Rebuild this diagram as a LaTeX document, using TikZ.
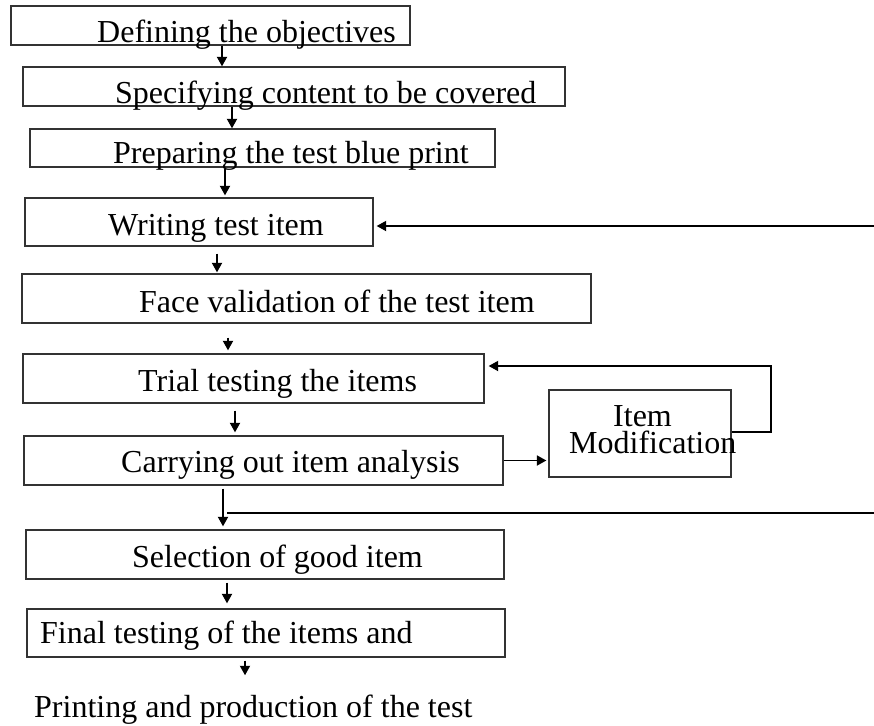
\documentclass[tikz,border=0pt]{standalone}
\usepackage{fontspec}
\setmainfont{Liberation Serif}
\usetikzlibrary{arrows.meta}
\begin{document}
\begin{tikzpicture}[x=1pt,y=-1pt,
  box/.style={draw=black!80, line width=1.3pt, rectangle, inner sep=0pt},
  txt/.style={anchor=base west, inner sep=0pt, font=\fontsize{32}{27}\selectfont},
  arr/.style={line width=1.8pt, -{Triangle[length=9.5pt,width=10pt]}},
  ln/.style={line width=1.8pt}]
\useasboundingbox (0,0) rectangle (874,725);
% boxes
\node[box, minimum width=399pt, minimum height=39pt] (b1) at (210.5,25.5) {};
\node[box, minimum width=542pt, minimum height=39pt] (b2) at (294,86.5) {};
\node[box, minimum width=465pt, minimum height=38pt] (b3) at (262.5,148) {};
\node[box, minimum width=348pt, minimum height=48pt] (b4) at (199,222) {};
\node[box, minimum width=569pt, minimum height=49pt] (b5) at (306.5,298.5) {};
\node[box, minimum width=461pt, minimum height=49pt] (b6) at (253.5,378.5) {};
\node[box, minimum width=479pt, minimum height=49pt] (b7) at (263.5,460.5) {};
\node[box, minimum width=478pt, minimum height=49pt] (b8) at (265,554.5) {};
\node[box, minimum width=478pt, minimum height=48pt] (b9) at (266,633) {};
\node[box, minimum width=182pt, minimum height=87pt] (mod) at (640,433.5) {};
% texts
\node[txt] (t1) at (97,43) {Defining the objectives};
\node[txt] (t2) at (115,103) {Specifying content to be covered};
\node[txt] (t3) at (113,163) {Preparing the test blue print};
\node[txt] (t4) at (108,235) {Writing test item};
\node[txt] (t5) at (139,312) {Face validation of the test item};
\node[txt] (t6) at (138,391) {Trial testing the items};
\node[txt] (t7) at (121,472) {Carrying out item analysis};
\node[txt] (t8) at (132,567) {Selection of good item};
\node[txt] (t9) at (40,643) {Final testing of the items and};
\node[txt] (t10) at (34,717) {Printing and production of the test};
\node[txt, align=left] (tm) at (569,453) {\hspace*{44pt}Item\\Modification};
% column coordinates
\coordinate (x1) at (222,0);
\coordinate (x2) at (232,0);
\coordinate (x3) at (225,0);
\coordinate (x4) at (217,0);
\coordinate (x5) at (228,0);
\coordinate (x6) at (235,0);
\coordinate (x7) at (223,0);
\coordinate (x8) at (227,0);
\coordinate (x9) at (245,0);
% main arrows
\draw[arr] (b1.south -| x1) -- (b2.north -| x1);
\draw[arr] (b2.south -| x2) -- (b3.north -| x2);
\draw[arr, shorten <=1pt, shorten >=2pt] (b3.south -| x3) -- (b4.north -| x3);
\draw[arr, shorten <=7pt, shorten >=1pt] (b4.south -| x4) -- (b5.north -| x4);
\draw[arr, shorten <=14pt, shorten >=3pt] (b5.south -| x5) -- (b6.north -| x5);
\draw[arr, shorten <=7pt, shorten >=3pt] (b6.south -| x6) -- (b7.north -| x6);
\draw[arr, shorten <=3pt, shorten >=3pt] (b7.south -| x7) -- (b8.north -| x7);
\draw[arr, shorten <=3pt, shorten >=5pt] (b8.south -| x8) -- (b9.north -| x8);
\draw[arr, shorten <=3pt, shorten >=19pt] (b9.south -| x9) -- (t10.north -| x9);
% item modification
\draw[arr, shorten >=2pt] (b7.east) -- (b7.east -| mod.west);
\draw[arr] ([yshift=1.5pt]mod.east) -- ++(39,0) |- ([yshift=12.5pt,xshift=4pt]b6.east);
% long feedback lines
\coordinate (f1) at (874,226);
\draw[arr, shorten >=3pt] (f1) -- (f1 -| b4.east);
\coordinate (f2a) at (227,513);
\coordinate (f2) at (874,513);
\draw[ln] (f2a) -- (f2);
\end{tikzpicture}
\end{document}
